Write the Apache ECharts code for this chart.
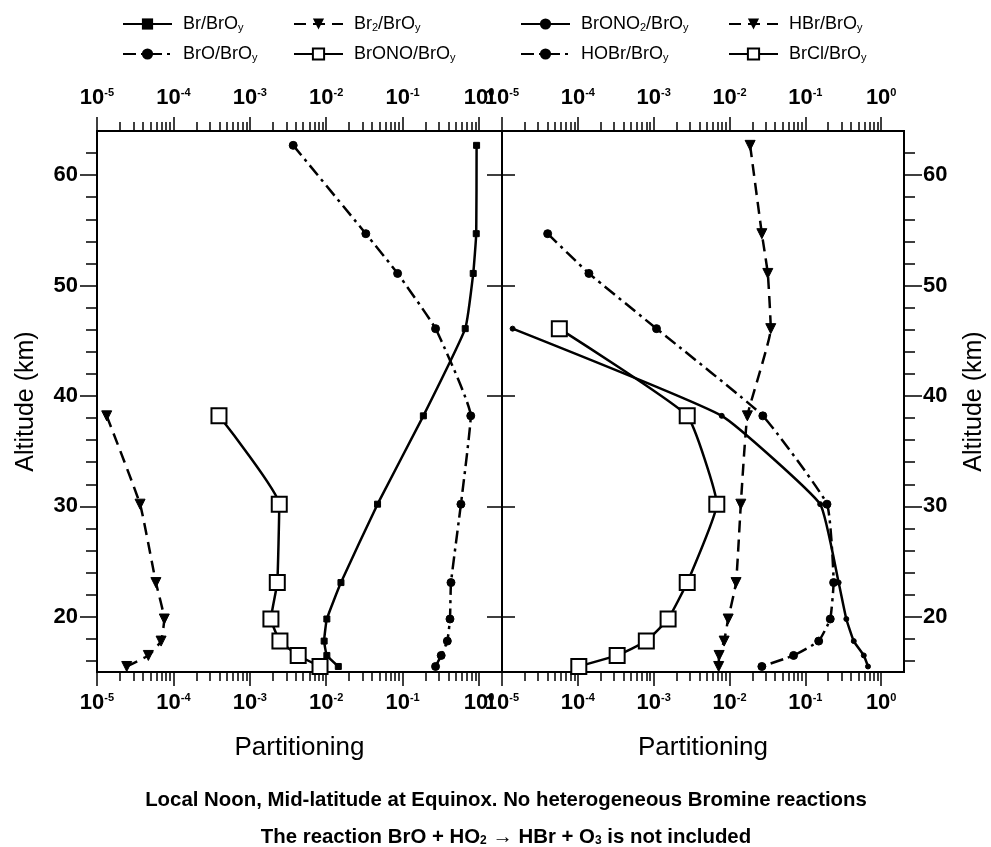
<!DOCTYPE html>
<html>
<head>
<meta charset="utf-8">
<script src="https://cdn.jsdelivr.net/npm/echarts@6/dist/echarts.min.js"></script>
<style>
  html, body { margin: 0; padding: 0; background: #fff; }
  #chart { width: 991px; height: 847px; }
</style>
</head>
<body>
<div id="chart"></div>
<script>
// altitude levels (km), top to bottom
const altitude = [62.7, 54.7, 51.1, 46.1, 38.2, 30.2, 23.1, 19.8, 17.8, 16.5, 15.5];

// left panel
const brRatio    = [0.93, 0.92, 0.84, 0.66, 0.187, 0.047, 0.0156, 0.0102, 0.0094, 0.0102, 0.0144];
const br2Ratio   = [null, null, null, null, 1.34e-5, 3.66e-5, 5.9e-5, 7.6e-5, 6.9e-5, 4.7e-5, 2.45e-5];
const broRatio   = [3.7e-3, 0.033, 0.086, 0.27, 0.78, 0.58, 0.43, 0.417, 0.385, 0.32, 0.27];
const bronoRatio = [null, null, null, null, 3.95e-4, 2.43e-3, 2.29e-3, 1.89e-3, 2.48e-3, 4.3e-3, 8.3e-3];

// right panel
const brono2Ratio = [null, null, null, 1.38e-5, 7.9e-3, 0.157, 0.275, 0.347, 0.435, 0.59, 0.67];
const hbrRatio    = [0.0187, 0.0267, 0.032, 0.035, 0.0172, 0.0141, 0.0122, 9.6e-3, 8.5e-3, 7.3e-3, 7.2e-3];
const hobrRatio   = [null, 4.0e-5, 1.4e-4, 1.09e-3, 0.0275, 0.193, 0.236, 0.213, 0.15, 0.07, 0.0267];
const brclRatio   = [null, null, null, 5.7e-5, 2.77e-3, 6.8e-3, 2.77e-3, 1.55e-3, 8.0e-4, 3.3e-4, 1.03e-4];

// ticks
const decadeTicks = [1e-5, 1e-4, 1e-3, 1e-2, 1e-1, 1];
const altMajor = [20, 30, 40, 50, 60];
const altMinor = [16, 18, 22, 24, 26, 28, 32, 34, 36, 38, 42, 44, 46, 48, 52, 54, 56, 58, 62];

const minorDecade = [];
decadeTicks.slice(0, 5).forEach(d => {
  for (let k = 2; k <= 9; k++) minorDecade.push(+(k * d).toPrecision(3));
});

const legendText = {
  'Br/BrOy': 'Br/BrO{s|y}',
  'Br2/BrOy': 'Br{s|2}/BrO{s|y}',
  'BrO/BrOy': 'BrO/BrO{s|y}',
  'BrONO/BrOy': 'BrONO/BrO{s|y}',
  'BrONO2/BrOy': 'BrONO{s|2}/BrO{s|y}',
  'HBr/BrOy': 'HBr/BrO{s|y}',
  'HOBr/BrOy': 'HOBr/BrO{s|y}',
  'BrCl/BrOy': 'BrCl/BrO{s|y}'
};

const FONT = "'Liberation Sans', Arial, Helvetica, sans-serif";

const pairs = vals => vals.map((v, i) => v == null ? null : [v, altitude[i]]).filter(Boolean);

const DASH = [12, 7];
const DASHDOT = [13, 5, 3, 5];

const chart = echarts.init(document.getElementById('chart'));

const powLabel = v => '{b|10}{s|' + Math.round(Math.log10(v)) + '}';
const powRich = {
  b: { fontSize: 22, fontWeight: 'bold', fontFamily: FONT, color: '#000' },
  s: { fontSize: 11, fontWeight: 'bold', fontFamily: FONT, color: '#000', verticalAlign: 'top' }
};

function xAx(grid, pos, minor, name) {
  return {
    type: 'log', logBase: 10, gridIndex: grid, position: pos, min: 1e-5, max: 2,
    name: name || '', nameLocation: 'middle', nameGap: 63,
    nameTextStyle: { fontSize: 26, fontFamily: FONT, color: '#000' },
    axisLine: { show: true, lineStyle: { color: '#000', width: 2 } },
    axisTick: { show: true, inside: false, length: minor ? 9 : 14,
      customValues: minor ? minorDecade : decadeTicks,
      lineStyle: { color: '#000', width: 1.5 } },
    axisLabel: { show: !minor, customValues: decadeTicks, formatter: powLabel, rich: powRich,
      margin: pos === 'top' ? 22 : 20 },
    splitLine: { show: false }, minorTick: { show: false }
  };
}

function yAx(grid, pos, vals, len, inside, labels, name) {
  return {
    type: 'value', gridIndex: grid, position: pos, min: 15, max: 64,
    name: name || '', nameLocation: 'middle', nameRotate: 90, nameGap: 58,
    nameTextStyle: { fontSize: 25, fontFamily: FONT, color: '#000' },
    axisLine: { show: true, lineStyle: { color: '#000', width: 2 } },
    axisTick: { show: true, inside: inside, length: len, customValues: vals,
      lineStyle: { color: '#000', width: 1.5 } },
    axisLabel: { show: labels, customValues: altMajor, margin: 19,
      fontSize: 22, fontWeight: 'bold', fontFamily: FONT, color: '#000' },
    splitLine: { show: false }
  };
}

function line(name, xi, yi, vals, dash, symbol, size) {
  return {
    name: name, type: 'line', xAxisIndex: xi, yAxisIndex: yi,
    data: pairs(vals), smooth: 0.12,
    symbol: symbol, symbolSize: size, symbolRotate: symbol === 'triangle' ? 180 : 0,
    showAllSymbol: true,
    lineStyle: { color: '#000', width: 2.5, type: dash },
    itemStyle: { color: '#000', borderColor: '#000' },
    emphasis: { disabled: true },
    z: 3
  };
}

function legendCol(left, names) {
  return {
    orient: 'vertical', left: left, top: 15, padding: 0,
    itemWidth: 49, itemHeight: 14, itemGap: 12,
    data: names, selectedMode: false,
    formatter: n => legendText[n],
    textStyle: {
      fontSize: 18, fontFamily: FONT, color: '#000', padding: [0, 0, 0, 6],
      rich: { s: { fontSize: 11, fontFamily: FONT, color: '#000', verticalAlign: 'bottom' } }
    }
  };
}

const option = {
  backgroundColor: '#fff',
  animation: false,
  title: [
    { text: 'Local Noon, Mid-latitude at Equinox. No heterogeneous Bromine reactions',
      left: 501, textAlign: 'center', top: 785,
      textStyle: { fontSize: 20.4, fontWeight: 'bold', fontFamily: FONT, color: '#000' } },
    { text: 'The reaction BrO + HO{s|2} \u2192 HBr + O{s|3} is not included',
      left: 501, textAlign: 'center', top: 822,
      textStyle: { fontSize: 20.4, fontWeight: 'bold', fontFamily: FONT, color: '#000',
        rich: { s: { fontSize: 12, fontWeight: 'bold', fontFamily: FONT, color: '#000', verticalAlign: 'bottom' } } } }
  ],
  legend: [
    legendCol(122, ['Br/BrOy', 'BrO/BrOy']),
    legendCol(293, ['Br2/BrOy', 'BrONO/BrOy']),
    legendCol(520, ['BrONO2/BrOy', 'HOBr/BrOy']),
    legendCol(728, ['HBr/BrOy', 'BrCl/BrOy'])
  ],
  grid: [
    { left: 97, right: 489, top: 131, bottom: 175 },
    { left: 502, right: 87, top: 131, bottom: 175 }
  ],
  xAxis: [
    xAx(0, 'bottom', false, 'Partitioning'),
    xAx(0, 'bottom', true),
    xAx(0, 'top', false),
    xAx(0, 'top', true),
    xAx(1, 'bottom', false, 'Partitioning'),
    xAx(1, 'bottom', true),
    xAx(1, 'top', false),
    xAx(1, 'top', true)
  ],
  yAxis: [
    yAx(0, 'left', altMajor, 17, false, true, 'Altitude (km)'),
    yAx(0, 'left', altMinor, 11, false, false),
    yAx(0, 'right', altMajor, 15, true, false),
    yAx(1, 'left', altMajor, 13, true, false),
    yAx(1, 'right', altMajor, 18, false, true, 'Altitude (km)'),
    yAx(1, 'right', altMinor, 11, false, false)
  ],
  series: [
    line('Br/BrOy', 0, 0, brRatio, 'solid', 'rect', 6),
    line('Br2/BrOy', 0, 0, br2Ratio, DASH, 'triangle', 10),
    line('BrO/BrOy', 0, 0, broRatio, DASHDOT, 'circle', 8),
    line('BrONO/BrOy', 0, 0, bronoRatio, 'solid', 'emptyRect', 15),
    line('BrONO2/BrOy', 4, 3, brono2Ratio, 'solid', 'circle', 5),
    line('HBr/BrOy', 4, 3, hbrRatio, DASH, 'triangle', 10),
    line('HOBr/BrOy', 4, 3, hobrRatio, DASHDOT, 'circle', 8),
    line('BrCl/BrOy', 4, 3, brclRatio, 'solid', 'emptyRect', 15)
  ]
};

chart.setOption(option);
</script>
</body>
</html>
